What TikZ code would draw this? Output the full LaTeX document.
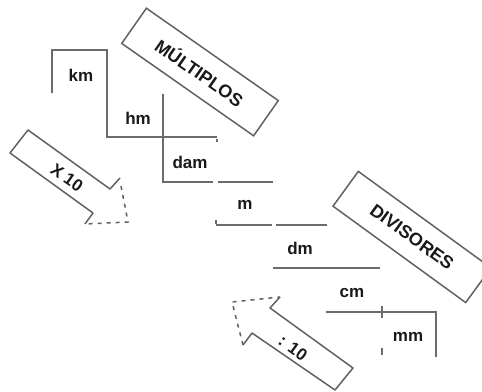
\documentclass[tikz,border=0pt]{standalone}
\usepackage{fontspec}
\setmainfont{Liberation Sans}
\begin{document}
\begin{tikzpicture}[x=1pt,y=-1pt,
  stair/.style={draw=black!58,line width=2pt},
  tick/.style={draw=black!58,line width=1.6pt},
  lbl/.style={font=\fontsize{17}{19}\selectfont\bfseries,text=black!90,inner sep=0pt},
  tagbox/.style={draw=black!62,line width=1.5pt,rectangle,minimum height=43pt,
     font=\fontsize{18}{20}\selectfont\bfseries,text=black!90},
  arrowline/.style={draw=black!62,line width=1.5pt,line join=round},
  arrowdash/.style={draw=black!62,line width=1.5pt,dash pattern=on 4pt off 5pt}]
\useasboundingbox (0,0) rectangle (482,391);
% stair lines
\draw[stair] (52,93) -- (52,50) -- (107,50) -- (107,137) -- (217,137);
\draw[stair] (163,94) -- (163,182) -- (213,182);
\draw[stair] (218,182) -- (273,182);
\draw[stair] (216,225) -- (272,225);
\draw[stair] (276,225) -- (327,225);
\draw[stair] (273,268) -- (380,268);
\draw[stair] (326,312) -- (436,312) -- (436,357);
\draw[tick] (217,139) -- (217,142);
\draw[tick] (216,220) -- (216,224);
\draw[tick] (382,306) -- (382,318);
\draw[tick] (382,348) -- (382,355);
% unit labels
\node[lbl] (km) at (81,75) {km};
\node[lbl] (hm) at (138,118) {hm};
\node[lbl] (dam) at (190,162) {dam};
\node[lbl] (m) at (245,205) {m};
\node[lbl] (dm) at (300,248) {dm};
\node[lbl] (cm) at (352,293) {cm};
\node[lbl] (mm) at (408,337) {mm};
% tag boxes
\node[tagbox,minimum width=161pt,rotate=-35] (mult) at (200,72) {MÚLTIPLOS};
\node[tagbox,minimum width=164pt,rotate=-36] (div) at (412,237) {DIVISORES};
% X 10 arrow
\draw[arrowline] (85,224) -- (93,213) -- (10,153) -- (28,130) -- (110,189) -- (120,178);
\draw[arrowdash] (121,186) -- (128,222) -- (85,224);
\node[lbl,rotate=-35] (x10) at (67,178) {X 10};
% : 10 arrow
\draw[arrowline] (280,297) -- (270,308) -- (353,368) -- (335,390) -- (252,333) -- (243,345);
\draw[arrowdash] (243,345) -- (232,302) -- (280,297);
\node[lbl,rotate=-36] (d10) at (293,348) {: 10};
\end{tikzpicture}
\end{document}
